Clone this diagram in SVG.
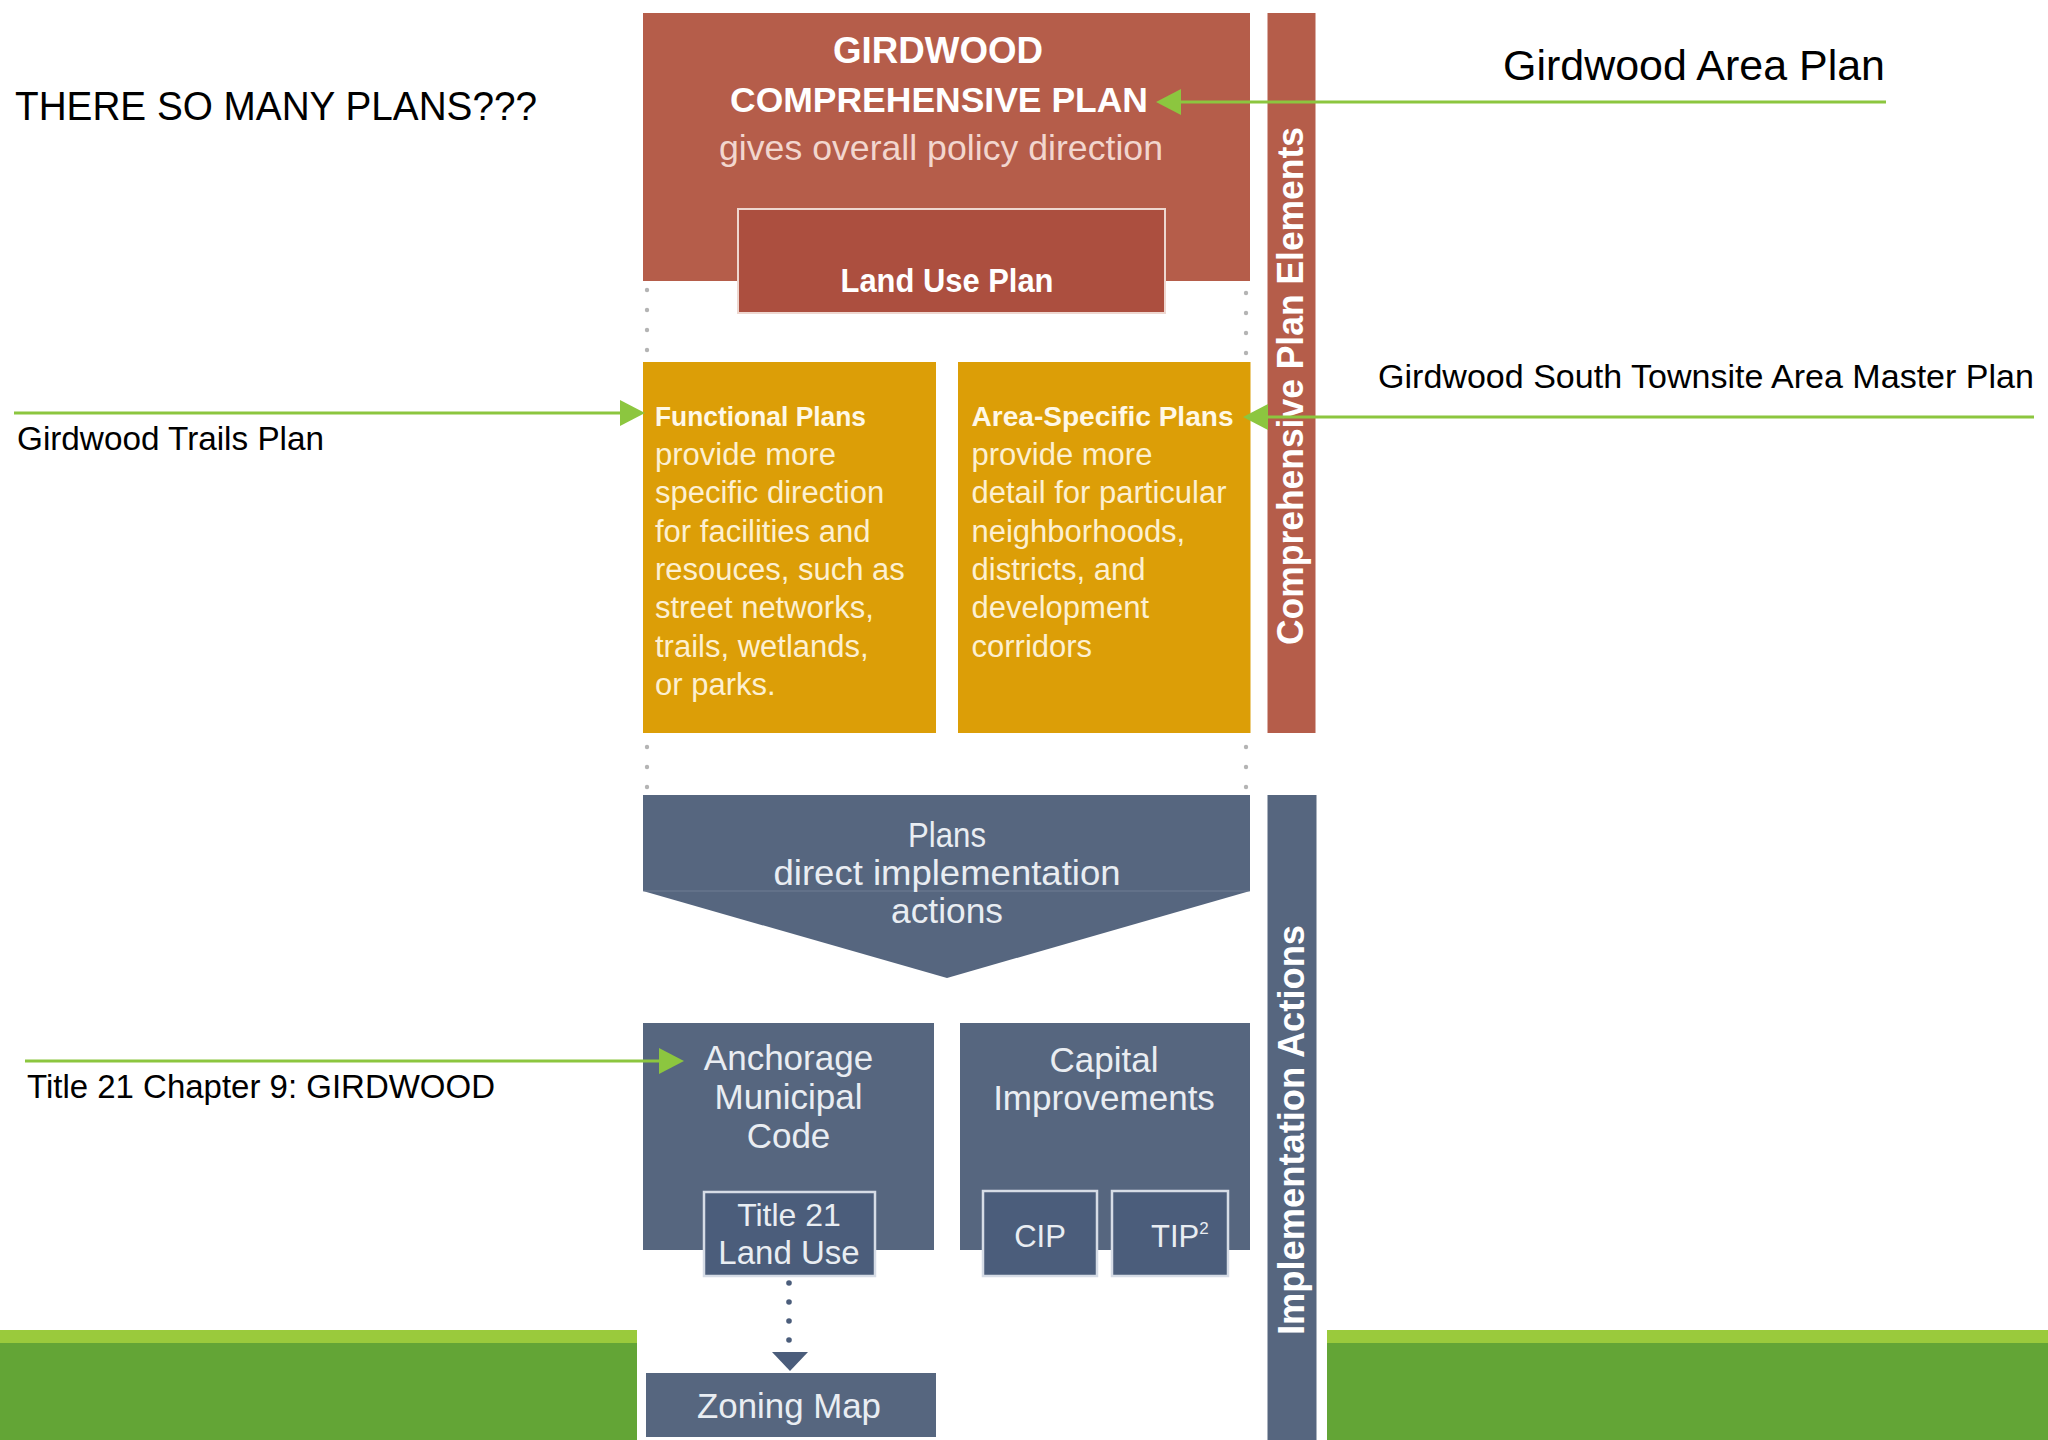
<svg xmlns="http://www.w3.org/2000/svg" width="2048" height="1440" viewBox="0 0 2048 1440">
<defs>
<style>
.lbl{font-family:"Liberation Sans",Arial,sans-serif;fill:#000}
.d{font-family:"Liberation Sans",Arial,sans-serif}
.b{font-weight:bold}
.w{fill:#FFFFFF}
.pink{fill:#F2D6CE}
.ytxt{fill:#FDF0D2;font-size:31px}
.ytitle{fill:#FFF8E6;font-size:27px;font-weight:bold}
.btxt{fill:#E9EDF2;font-size:35px}
.red{fill:#B55D4A}
.yel{fill:#DC9E07}
.blu{fill:#56667F}
.blu2{fill:#4B5D7B;stroke:#D6DCE6;stroke-width:2.5}
.arrow{stroke:#8CC63F;stroke-width:3;fill:none}
.dot{fill:#B4B4B4}
.bdot{fill:#4B5D7B}
</style>
<marker id="gh" markerUnits="userSpaceOnUse" markerWidth="26" markerHeight="28" viewBox="0 0 26 28" refX="0" refY="14" orient="auto">
<path d="M0,1 L25,14 L0,27 Z" fill="#8CC63F"/>
</marker>
</defs>
<rect width="2048" height="1440" fill="#FFFFFF"/>

<g id="footer">
<rect x="0" y="1330" width="637" height="13" fill="#9ACA3C"/>
<rect x="0" y="1343" width="637" height="97" fill="#63A536"/>
<rect x="1327" y="1330" width="721" height="13" fill="#9ACA3C"/>
<rect x="1327" y="1343" width="721" height="97" fill="#63A536"/>
</g>

<g id="title">
<text class="lbl" x="15" y="120" font-size="40" textLength="522" lengthAdjust="spacingAndGlyphs">THERE SO MANY PLANS???</text>
</g>

<g id="label-area-plan">
<text class="lbl" x="1503" y="80" font-size="42" textLength="382" lengthAdjust="spacingAndGlyphs">Girdwood Area Plan</text>
</g>
<g id="label-south-townsite">
<text class="lbl" x="1378" y="388" font-size="33" textLength="656" lengthAdjust="spacingAndGlyphs">Girdwood South Townsite Area Master Plan</text>
</g>
<g id="label-trails">
<text class="lbl" x="17" y="450" font-size="33" textLength="307" lengthAdjust="spacingAndGlyphs">Girdwood Trails Plan</text>
</g>
<g id="label-title21">
<text class="lbl" x="27" y="1098" font-size="33" textLength="468" lengthAdjust="spacingAndGlyphs">Title 21 Chapter 9: GIRDWOOD</text>
</g>

<g id="comp-plan">
<rect class="red" x="643" y="13" width="607" height="268"/>
<text class="d b w" x="938" y="63" font-size="36" text-anchor="middle" textLength="210" lengthAdjust="spacingAndGlyphs">GIRDWOOD</text>
<text class="d b w" x="939" y="112" font-size="35" text-anchor="middle" textLength="418" lengthAdjust="spacingAndGlyphs">COMPREHENSIVE PLAN</text>
<text class="d pink" x="941" y="160" font-size="35" text-anchor="middle" textLength="444" lengthAdjust="spacingAndGlyphs">gives overall policy direction</text>
</g>

<g id="land-use-plan">
<rect x="738" y="209" width="427" height="104" fill="#AC4F3F" stroke="#EED7D0" stroke-width="2"/>
<text class="d b w" x="947" y="292" font-size="33" text-anchor="middle" textLength="213" lengthAdjust="spacingAndGlyphs">Land Use Plan</text>
</g>

<g id="functional-plans">
<rect class="yel" x="643" y="362" width="293" height="371"/>
<text class="d ytitle" x="655" y="426" textLength="211" lengthAdjust="spacingAndGlyphs">Functional Plans</text>
<text class="d ytxt" x="655" y="465">provide more</text>
<text class="d ytxt" x="655" y="503">specific direction</text>
<text class="d ytxt" x="655" y="542">for facilities and</text>
<text class="d ytxt" x="655" y="580">resouces, such as</text>
<text class="d ytxt" x="655" y="618">street networks,</text>
<text class="d ytxt" x="655" y="657">trails, wetlands,</text>
<text class="d ytxt" x="655" y="695">or parks.</text>
</g>

<g id="area-specific-plans">
<rect class="yel" x="958" y="362" width="292.5" height="371"/>
<text class="d ytitle" x="971.5" y="426" textLength="262" lengthAdjust="spacingAndGlyphs">Area-Specific Plans</text>
<text class="d ytxt" x="971.5" y="465">provide more</text>
<text class="d ytxt" x="971.5" y="503">detail for particular</text>
<text class="d ytxt" x="971.5" y="542">neighborhoods,</text>
<text class="d ytxt" x="971.5" y="580">districts, and</text>
<text class="d ytxt" x="971.5" y="618">development</text>
<text class="d ytxt" x="971.5" y="657">corridors</text>
</g>

<g id="bar-comprehensive">
<rect class="red" x="1267.5" y="13" width="48" height="720"/>
<text class="d b w" transform="translate(1303,386) rotate(-90)" x="0" y="0" font-size="37" text-anchor="middle" textLength="518" lengthAdjust="spacingAndGlyphs">Comprehensive Plan Elements</text>
</g>

<g id="plans-direct">
<path class="blu" d="M643,795 H1250 V891 L947,978 L643,891 Z"/>
<line x1="643" y1="891" x2="1250" y2="891" stroke="#7A889D" stroke-width="1.2" opacity="0.7"/>
<text class="d btxt" x="947" y="847" text-anchor="middle" textLength="78" lengthAdjust="spacingAndGlyphs">Plans</text>
<text class="d btxt" x="947" y="885" text-anchor="middle" textLength="347" lengthAdjust="spacingAndGlyphs">direct implementation</text>
<text class="d btxt" x="947" y="923" text-anchor="middle" textLength="112" lengthAdjust="spacingAndGlyphs">actions</text>
</g>

<g id="municipal-code">
<rect class="blu" x="643" y="1023" width="291" height="227"/>
<text class="d btxt" x="788.5" y="1070" text-anchor="middle">Anchorage</text>
<text class="d btxt" x="788.5" y="1109" text-anchor="middle">Municipal</text>
<text class="d btxt" x="788.5" y="1148" text-anchor="middle">Code</text>
</g>

<g id="title-21">
<rect class="blu2" x="704" y="1192" width="171" height="84"/>
<text class="d btxt" x="789" y="1226" text-anchor="middle" font-size="32" style="font-size:32px">Title 21</text>
<text class="d btxt" x="789" y="1264" text-anchor="middle" style="font-size:33px">Land Use</text>
</g>

<g id="capital-improvements">
<rect class="blu" x="960" y="1023" width="290" height="227"/>
<text class="d btxt" x="1104" y="1072" text-anchor="middle">Capital</text>
<text class="d btxt" x="1104" y="1110" text-anchor="middle">Improvements</text>
</g>

<g id="cip">
<rect class="blu2" x="983" y="1191" width="114" height="85"/>
<text class="d btxt" x="1040" y="1247" text-anchor="middle" style="font-size:31px">CIP</text>
</g>

<g id="tip">
<rect class="blu2" x="1112" y="1191" width="116" height="85"/>
<text class="d btxt" x="1151" y="1247" style="font-size:31px">TIP<tspan style="font-size:17px" dy="-13">2</tspan></text>
</g>

<g id="zoning-map">
<rect class="blu" x="646" y="1373" width="290" height="64"/>
<text class="d btxt" x="789" y="1418" text-anchor="middle" textLength="184" lengthAdjust="spacingAndGlyphs">Zoning Map</text>
</g>

<g id="bar-implementation">
<rect class="blu" x="1267.5" y="795" width="49" height="645"/>
<text class="d b w" transform="translate(1304,1130) rotate(-90)" x="0" y="0" font-size="37" text-anchor="middle" textLength="410" lengthAdjust="spacingAndGlyphs">Implementation Actions</text>
</g>

<g id="connectors">
<circle class="dot" cx="647" cy="290" r="2.2"/>
<circle class="dot" cx="647" cy="310" r="2.2"/>
<circle class="dot" cx="647" cy="330" r="2.2"/>
<circle class="dot" cx="647" cy="350" r="2.2"/>
<circle class="dot" cx="1246" cy="293" r="2.2"/>
<circle class="dot" cx="1246" cy="313" r="2.2"/>
<circle class="dot" cx="1246" cy="333" r="2.2"/>
<circle class="dot" cx="1246" cy="353" r="2.2"/>
<circle class="dot" cx="647" cy="747" r="2.2"/>
<circle class="dot" cx="647" cy="767" r="2.2"/>
<circle class="dot" cx="647" cy="787" r="2.2"/>
<circle class="dot" cx="1246" cy="747" r="2.2"/>
<circle class="dot" cx="1246" cy="767" r="2.2"/>
<circle class="dot" cx="1246" cy="787" r="2.2"/>
<circle class="bdot" cx="789" cy="1283" r="2.8"/>
<circle class="bdot" cx="789" cy="1302" r="2.8"/>
<circle class="bdot" cx="789" cy="1321" r="2.8"/>
<circle class="bdot" cx="789" cy="1340" r="2.8"/>
<path class="bdot" d="M772,1352 L808,1352 L790,1371 Z"/>
<path class="arrow" d="M1886,102 H1181" marker-end="url(#gh)"/>
<path class="arrow" d="M14,413 H620" marker-end="url(#gh)"/>
<path class="arrow" d="M2034,417 H1268" marker-end="url(#gh)"/>
<path class="arrow" d="M25,1061 H659" marker-end="url(#gh)"/>
</g>
</svg>
